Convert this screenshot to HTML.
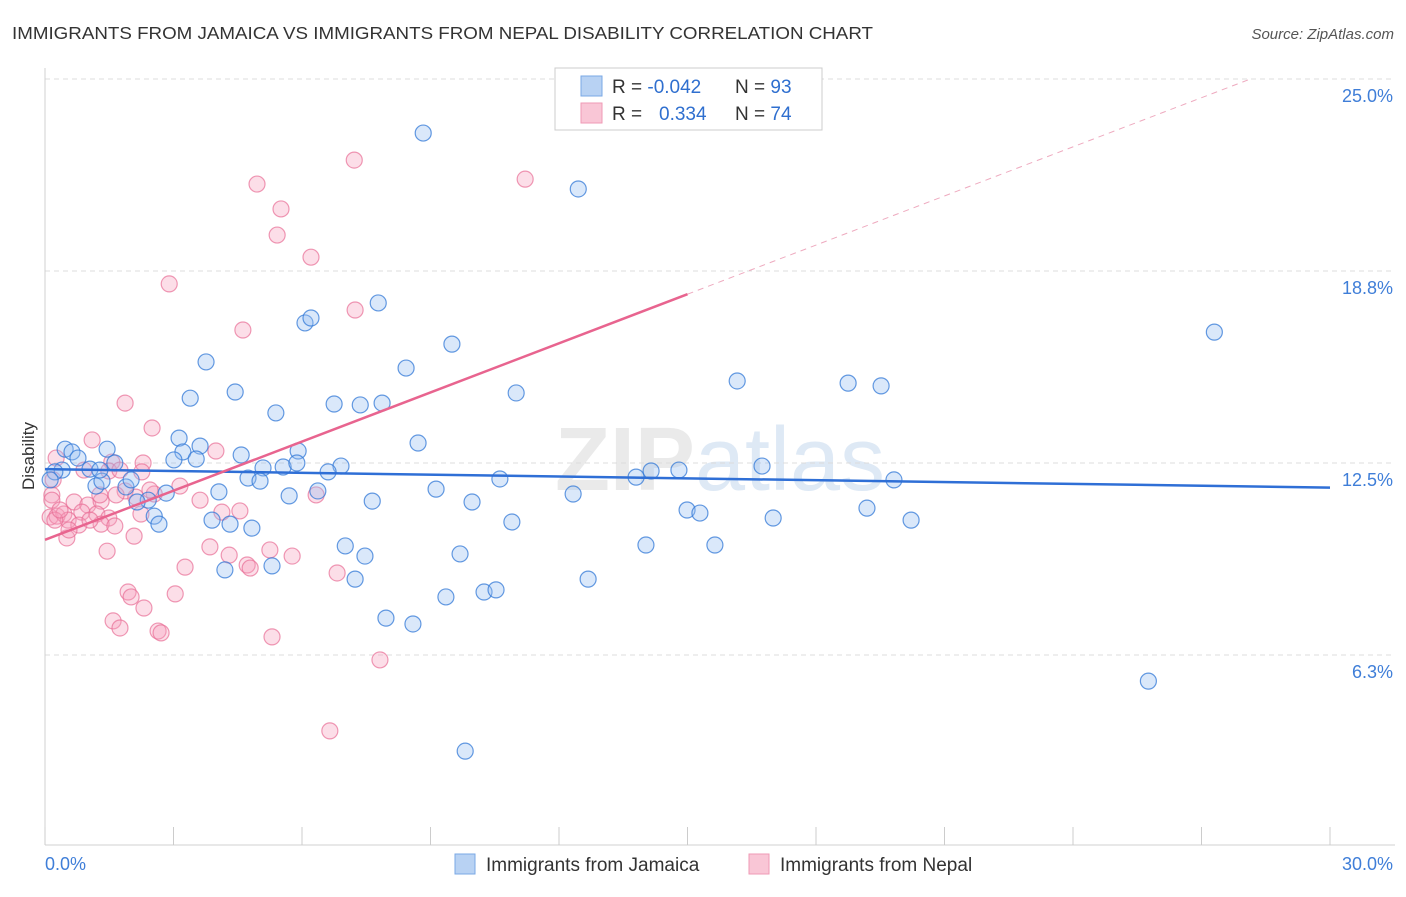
<!DOCTYPE html>
<html><head><meta charset="utf-8"><style>
body{margin:0;background:#fff;width:1406px;height:892px;overflow:hidden;font-family:"Liberation Sans",sans-serif}
</style></head><body>
<svg id="chart" width="1406" height="892" xmlns="http://www.w3.org/2000/svg" font-family="Liberation Sans, sans-serif">
<text x="12" y="39" font-size="17.5" fill="#333" textLength="861" lengthAdjust="spacingAndGlyphs">IMMIGRANTS FROM JAMAICA VS IMMIGRANTS FROM NEPAL DISABILITY CORRELATION CHART</text>
<text x="1394" y="39" font-size="15" fill="#555" font-style="italic" text-anchor="end">Source: ZipAtlas.com</text>
<text x="720" y="490" font-size="90" fill="#e6e6e6" text-anchor="middle" font-weight="bold" opacity="0.8">ZIP<tspan fill="#d7e4f3" font-weight="normal">atlas</tspan></text>
<g id="grid"></g>
<g id="axes"></g>
<g id="marks"></g>
<text transform="translate(34,456) rotate(-90)" font-size="17" fill="#333" text-anchor="middle">Disability</text>
<g>
<rect x="555" y="68" width="267" height="62" fill="#fff" stroke="#ccc"/>
<rect x="581" y="76" width="21" height="20" fill="#b8d2f3" stroke="#7aa8e6"/>
<rect x="581" y="103" width="21" height="20" fill="#f9c6d6" stroke="#ef9ab5"/>
<text x="612" y="93" font-size="19" fill="#333">R = <tspan fill="#2f6fcf">-0.042</tspan></text>
<text x="735" y="93" font-size="19" fill="#333">N = <tspan fill="#2f6fcf">93</tspan></text>
<text x="612" y="120" font-size="19" fill="#333">R = <tspan fill="#2f6fcf" x="659">0.334</tspan></text>
<text x="735" y="120" font-size="19" fill="#333">N = <tspan fill="#2f6fcf">74</tspan></text>
</g>
<g>
<rect x="455" y="854" width="20" height="20" fill="#b8d2f3" stroke="#7aa8e6"/>
<text x="486" y="871" font-size="19" fill="#333">Immigrants from Jamaica</text>
<rect x="749" y="854" width="20" height="20" fill="#f9c6d6" stroke="#ef9ab5"/>
<text x="780" y="871" font-size="19" fill="#333">Immigrants from Nepal</text>
</g>
</svg>
<script>
const yTicks=[6.25,12.5,18.75,25];
const yTickLabels=["6.3%","12.5%","18.8%","25.0%"];
const xTickLabels=["0.0%","30.0%"];
const jamX=[8.83,12.45,27.30,7.78,6.07,6.21,9.50,3.76,8.43,16.16,18.75,19.52,4.44,3.39,11.00,5.39,6.75,7.36,7.87,8.71,3.13,3.62,3.22,0.47,0.63,1.45,0.77,4.58,5.91,3.01,3.53,1.63,1.05,5.09,5.56,5.88,6.91,6.61,0.40,0.23,0.12,4.74,5.02,10.62,13.80,14.15,14.80,16.74,19.82,1.19,1.33,1.89,2.01,4.06,2.83,5.70,6.37,9.13,12.33,2.41,2.15,7.64,9.97,14.99,15.29,19.19,2.55,3.90,4.32,4.83,2.66,10.90,17.00,20.22,7.01,7.47,9.69,14.03,15.64,4.20,5.30,7.24,12.68,9.36,10.25,10.53,7.96,8.59,25.76,9.81,1.28];
const jamY=[23.24,21.42,16.76,17.71,17.06,17.22,16.37,15.79,15.59,15.17,15.10,15.01,14.81,14.61,14.78,14.13,14.42,14.39,14.45,13.15,13.31,13.05,12.86,12.95,12.86,12.95,12.66,12.76,12.89,12.60,12.63,12.50,12.30,12.34,12.37,12.50,12.40,12.21,12.27,12.21,11.95,12.01,11.91,11.98,12.04,12.24,12.27,12.40,11.95,11.75,11.91,11.72,11.95,11.56,11.52,11.43,11.59,11.65,11.49,11.29,11.23,11.26,11.23,10.97,10.87,11.03,10.77,10.64,10.51,10.38,10.51,10.58,10.71,10.64,9.80,9.47,9.54,9.83,9.83,9.02,9.15,8.72,8.72,8.14,8.30,8.37,7.45,7.26,5.40,3.12,12.27];
const nepX=[7.22,11.21,4.95,5.51,5.42,6.21,2.90,7.24,4.62,1.87,2.50,1.10,3.99,0.26,1.56,2.29,0.91,2.26,1.49,0.19,3.15,1.87,2.55,1.66,0.16,0.68,0.16,1.00,2.12,1.31,4.13,4.55,0.12,0.28,0.44,0.86,1.21,1.49,0.54,0.79,2.24,1.31,0.23,1.63,0.51,2.08,6.33,1.45,3.85,4.30,5.25,5.77,3.27,4.72,4.79,6.82,1.94,2.01,2.31,3.04,1.59,1.75,2.64,2.71,5.30,7.82,6.65,0.56,0.35,1.05,2.45,3.62,1.75,1.28];
const nepY=[22.36,21.74,21.58,20.77,19.92,19.20,18.33,17.48,16.83,14.45,13.64,13.25,12.89,12.66,12.53,12.50,12.27,12.21,12.24,11.95,11.75,11.59,11.49,11.46,11.46,11.23,11.29,11.13,11.39,11.26,10.90,10.94,10.74,10.77,10.84,10.90,10.84,10.71,10.64,10.48,10.84,10.51,10.64,10.45,10.06,10.12,11.46,9.63,9.77,9.50,9.67,9.47,9.11,9.18,9.08,8.92,8.30,8.14,7.78,8.24,7.36,7.13,7.03,6.97,6.84,6.09,3.78,10.32,10.97,10.64,11.62,11.29,12.27,11.46];
const jamTrend=[12.3,11.7];
const nepTrend=[10.0,0.533];
const NS="http://www.w3.org/2000/svg";
const X0=45,X1=1330,XMAX=30,YZ=847,PPU=192/6.25;
function sx(v){return X0+(v/XMAX)*(X1-X0);}
function sy(v){return YZ-v*PPU;}
function mk(tag,attrs,parent){const e=document.createElementNS(NS,tag);for(const k in attrs)e.setAttribute(k,attrs[k]);document.getElementById(parent).appendChild(e);return e;}
yTicks.forEach((t,i)=>{
 const l=mk('line',{x1:X0,x2:1395,y1:sy(t),y2:sy(t),stroke:'#dcdcdc','stroke-dasharray':'5,4'},'grid');
 
 
 const tx=mk('text',{x:1393,y:sy(t)+23,'font-size':18,fill:'#3f7ed8','text-anchor':'end'},'axes');
 tx.textContent=yTickLabels[i];
 
 
});
const ax=mk('line',{x1:X0,x2:1395,y1:845,y2:845,stroke:'#d0d0d0'},'axes');


const ay=mk('line',{x1:X0,x2:X0,y1:68,y2:845,stroke:'#d0d0d0'},'axes');


for(let i=0;i<=10;i++){
 const t=mk('line',{x1:sx(i*3),x2:sx(i*3),y1:827,y2:845,stroke:'#ccc'},'axes');
 
 
}
const xl0=mk('text',{x:45,y:870,'font-size':18,fill:'#3f7ed8'},'axes');
xl0.textContent=xTickLabels[0];


const xl1=mk('text',{x:1393,y:870,'font-size':18,fill:'#3f7ed8','text-anchor':'end'},'axes');
xl1.textContent=xTickLabels[1];


nepX.forEach((v,i)=>{
 const c=mk('circle',{cx:sx(v),cy:sy(nepY[i]),r:8,fill:'rgba(245,160,190,0.35)',stroke:'rgba(232,110,150,0.7)','stroke-width':1.2},'marks');
 
 
});
jamX.forEach((v,i)=>{
 const c=mk('circle',{cx:sx(v),cy:sy(jamY[i]),r:8,fill:'rgba(150,190,240,0.35)',stroke:'rgba(50,120,215,0.75)','stroke-width':1.2},'marks');
 
 
});
const jl=mk('line',{x1:sx(0),y1:sy(jamTrend[0]),x2:sx(30),y2:sy(jamTrend[1]),stroke:'#2f6fd6','stroke-width':2.5},'marks');


const nl=mk('line',{x1:sx(0),y1:sy(nepTrend[0]),x2:sx(15),y2:sy(nepTrend[0]+15*nepTrend[1]),stroke:'#e8648f','stroke-width':2.5},'marks');


const xe=(25.0-nepTrend[0])/nepTrend[1];
const nd=mk('line',{x1:sx(15),y1:sy(nepTrend[0]+15*nepTrend[1]),x2:sx(xe),y2:sy(25.0),stroke:'#eeaabf','stroke-width':1,'stroke-dasharray':'6,5'},'marks');


</script>
</body></html>
